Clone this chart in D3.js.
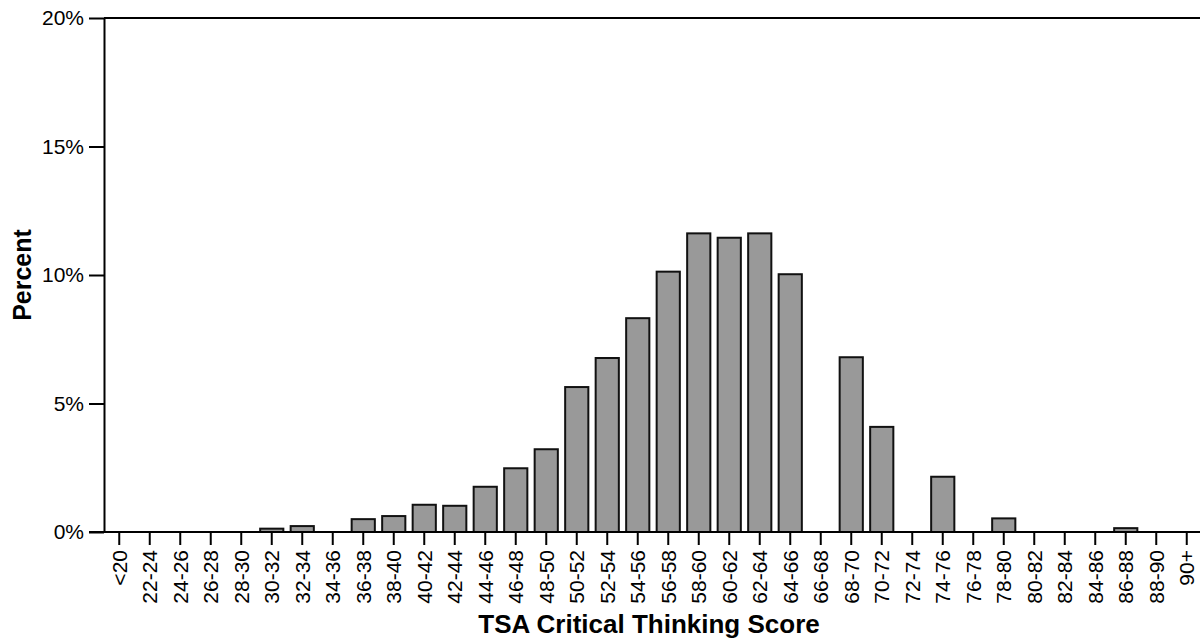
<!DOCTYPE html>
<html lang="en">
<head>
    <meta charset="UTF-8">
    <title>TSA Critical Thinking Score</title>
    <script src="https://d3js.org/d3.v7.min.js"></script>
    <style>
        body { margin: 0; background: #fff; }
        svg text { font-family: "Liberation Sans", Arial, sans-serif; fill: #000; }
    </style>
</head>
<body>
<div id="chartDiv"></div>
<script>
    // score bands and percent of candidates
    const categories = ["<20", "22-24", "24-26", "26-28", "28-30", "30-32", "32-34", "34-36", "36-38", "38-40",
        "40-42", "42-44", "44-46", "46-48", "48-50", "50-52", "52-54", "54-56", "56-58", "58-60",
        "60-62", "62-64", "64-66", "66-68", "68-70", "70-72", "72-74", "74-76", "76-78", "78-80",
        "80-82", "82-84", "84-86", "86-88", "88-90", "90+"];
    const percents = [0, 0, 0, 0, 0, 0.13, 0.23, 0, 0.5, 0.62,
        1.06, 1.02, 1.76, 2.48, 3.22, 5.64, 6.77, 8.32, 10.13, 11.62,
        11.45, 11.62, 10.03, 0, 6.8, 4.09, 0, 2.15, 0, 0.53,
        0, 0, 0, 0.15, 0, 0];
    const yTicks = [0, 5, 10, 15, 20];

    const width = 1200, height = 639;
    const plotLeft = 104, plotTop = 18, plotBottom = 532, plotRight = 1202;

    const svg = d3.select("#chartDiv").append("svg")
        .attr("width", width)
        .attr("height", height);

    const x = d3.scaleBand()
        .domain(categories)
        .range([plotLeft, plotRight])
        .paddingInner(0.24)
        .paddingOuter(0.12);

    const y = d3.scaleLinear()
        .domain([0, 20])
        .range([plotBottom, plotTop]);

    // bars
    svg.selectAll(".bar")
        .data(categories.map((c, i) => ({ c, v: percents[i] })).filter(d => d.v > 0))
        .enter().append("rect")
        .attr("class", "bar")
        .attr("x", d => x(d.c))
        .attr("y", d => y(d.v))
        .attr("width", x.bandwidth())
        .attr("height", d => y(0) - y(d.v))
        .attr("fill", "#999999")
        .attr("stroke", "#111")
        .attr("stroke-width", 2);

    // top frame line
    svg.append("line")
        .attr("x1", plotLeft).attr("x2", width)
        .attr("y1", y(20)).attr("y2", y(20))
        .attr("stroke", "#000").attr("stroke-width", 2);

    // y axis
    const yAxis = svg.append("g")
        .attr("transform", `translate(${plotLeft},0)`)
        .call(d3.axisLeft(y).tickValues(yTicks).tickFormat(d => d + "%").tickSize(15).tickSizeOuter(0).tickPadding(5));
    yAxis.select(".domain").attr("stroke-width", 2);
    yAxis.selectAll(".tick line").attr("stroke-width", 2);
    yAxis.selectAll("text").style("font-size", "21px").attr("fill", "#000");

    // x axis
    const xAxis = svg.append("g")
        .attr("transform", `translate(0,${plotBottom})`)
        .call(d3.axisBottom(x).tickSize(13).tickSizeOuter(0));
    xAxis.select(".domain").attr("d", `M${plotLeft - 15},0H${width}`).attr("stroke-width", 2);
    xAxis.selectAll(".tick line").attr("stroke-width", 2);
    xAxis.selectAll("text")
        .style("font-size", "21px")
        .attr("fill", "#000")
        .attr("transform", "rotate(-90)")
        .attr("text-anchor", "end")
        .attr("x", -18)
        .attr("y", 0)
        .attr("dy", "0.35em");

    // axis titles
    svg.append("text")
        .attr("x", 649)
        .attr("y", 633)
        .attr("text-anchor", "middle")
        .style("font-size", "26px")
        .style("font-weight", "bold")
        .text("TSA Critical Thinking Score");

    svg.append("text")
        .attr("transform", `translate(31,${y(10)}) rotate(-90)`)
        .attr("text-anchor", "middle")
        .style("font-size", "25px")
        .style("font-weight", "bold")
        .text("Percent");
</script>
</body>
</html>
